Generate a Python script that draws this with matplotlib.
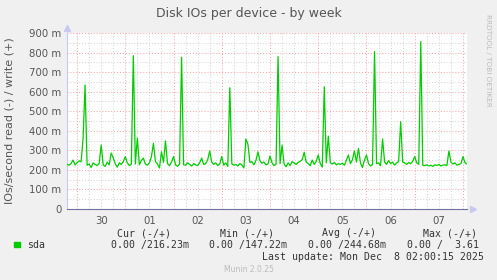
import numpy as np
import pandas as pd
import matplotlib
matplotlib.use("Agg")
import matplotlib.pyplot as plt

# hourly write IOs (milli-IOs/s), read side is zero
start = "2025-11-29 19:00"
write_m = [
    228, 224, 232, 250, 226, 236, 246, 242, 360, 634,
    224, 230, 212, 236, 228, 222, 232, 327, 226, 218,
    240, 226, 286, 262, 232, 214, 236, 228, 242, 268,
    236, 222, 230, 784, 230, 363, 226, 248, 260, 230,
    224, 236, 268, 336, 242, 230, 210, 293, 238, 348,
    232, 222, 240, 268, 226, 218, 230, 776, 226, 224,
    236, 228, 220, 232, 226, 222, 236, 260, 228, 232,
    252, 297, 240, 228, 236, 222, 230, 268, 224, 236,
    218, 620, 230, 224, 228, 220, 232, 226, 210, 358,
    332, 238, 242, 226, 248, 292, 246, 234, 240, 226,
    230, 271, 236, 222, 228, 779, 232, 327, 230, 216,
    236, 222, 242, 236, 228, 238, 244, 252, 290, 240,
    232, 222, 250, 228, 244, 276, 232, 214, 625, 236,
    373, 236, 230, 238, 226, 232, 228, 234, 224, 250,
    276, 232, 252, 297, 240, 310, 236, 212, 250, 276,
    232, 220, 228, 805, 232, 236, 222, 358, 240, 228,
    248, 232, 240, 224, 236, 242, 446, 240, 236, 228,
    238, 232, 244, 268, 236, 228, 856, 224, 222, 226,
    220, 224, 218, 226, 222, 228, 220, 224, 226, 222,
    297, 240, 230, 236, 224, 228, 232, 268, 236, 230,
]
times = pd.date_range(start, periods=len(write_m), freq="h")
day_labels = ["30", "01", "02", "03", "04", "05", "06", "07"]
day_starts = pd.date_range("2025-11-30", periods=9, freq="D")

BG = "#F0F0F0"
GREEN = "#00CC00"
MAJ = "#F4A0A0"
MIN = "#D0D0D0"

fig = plt.figure(figsize=(4.97, 2.8), dpi=100, facecolor=BG)
ax = fig.add_axes([67/497, 1-209/280, 400/497, 176/280])
ax.set_facecolor("white")

vals = np.array(write_m) / 1000.0
ax.plot(times, vals, color=GREEN, lw=0.9, zorder=3)

x0 = pd.Timestamp("2025-11-29 19:00")
x1 = pd.Timestamp("2025-12-08 02:00")
ax.set_xlim(x0, x1)
ax.set_ylim(0, 0.9)

# grid: red every day / 100m, grey every 6h / 50m
for t in pd.date_range("2025-11-30 00:00", x1, freq="6h"):
    c = MAJ if t.hour == 0 else MIN
    ax.axvline(t, color=c, lw=0.7, ls=(0, (1, 2)), zorder=1 if t.hour else 2)
for v in np.arange(0.05, 0.91, 0.05):
    c = MAJ if round(v * 100) % 10 == 0 else MIN
    ax.axhline(v, color=c, lw=0.7, ls=(0, (1, 2)), zorder=1)

yt = np.arange(0, 0.91, 0.1)
ax.set_yticks(yt)
ax.set_yticklabels(["0"] + [f"{int(round(v*1000))} m" for v in yt[1:]])
mids = day_starts[:-1] + pd.Timedelta(hours=12)
ax.set_xticks(mids)
ax.set_xticklabels(day_labels)
ax.tick_params(length=0, labelsize=7.3, colors="#555555", pad=4)
ax.tick_params(axis="x", pad=5)

for s in ["top", "right"]:
    ax.spines[s].set_visible(False)
ax.spines["left"].set_color("#C8C8F0")
ax.spines["bottom"].set_color("#7070A0")
ax.plot([0], [1.03], marker="^", ms=5, color="#C8C8F0", transform=ax.transAxes, clip_on=False)
ax.plot([1.015], [0], marker=">", ms=5, color="#C8C8F0", transform=ax.transAxes, clip_on=False)

fig.text(249/497, 1-13/280, "Disk IOs per device - by week", ha="center", va="center",
         fontsize=9, color="#555555")
fig.text(10/497, 1-121/280, "IOs/second read (-) / write (+)", rotation=90, ha="center",
         va="center", fontsize=8, color="#555555")
fig.text(488/497, 1-60/280, "RRDTOOL / TOBI OETIKER", rotation=270, ha="center",
         va="center", fontsize=5.2, color="#BBBBBB")

mono = dict(family="DejaVu Sans Mono", fontsize=7.1, color="#333333", va="center")
headers = [(116.7, "Cur (-/+)"), (220, "Min (-/+)"), (321.7, "Avg (-/+)"), (423.3, "Max (-/+)")]
for x, s in headers:
    fig.text(x/497, 1-233.5/280, s, ha="left", **mono)
values = [(110.7, "0.00 /216.23m"), (209.3, "0.00 /147.22m"), (308.3, "0.00 /244.68m"), (407.3, "0.00 /  3.61")]
for x, s in values:
    fig.text(x/497, 1-245/280, s, ha="left", **mono)
fig.patches.append(plt.Rectangle((14/497, 1-247.3/280), 5.5/497, 5.5/280, color=GREEN,
                                 transform=fig.transFigure, figure=fig))
fig.text(26.7/497, 1-245/280, "sda", ha="left", **mono)
fig.text(483.5/497, 1-257.5/280, "Last update: Mon Dec  8 02:00:15 2025", ha="right", **mono)
fig.text(249/497, 1-269.3/280, "Munin 2.0.25", ha="center", va="center",
         fontsize=5.5, color="#BBBBBB")

fig.savefig("out.png", dpi=100, facecolor=BG)
